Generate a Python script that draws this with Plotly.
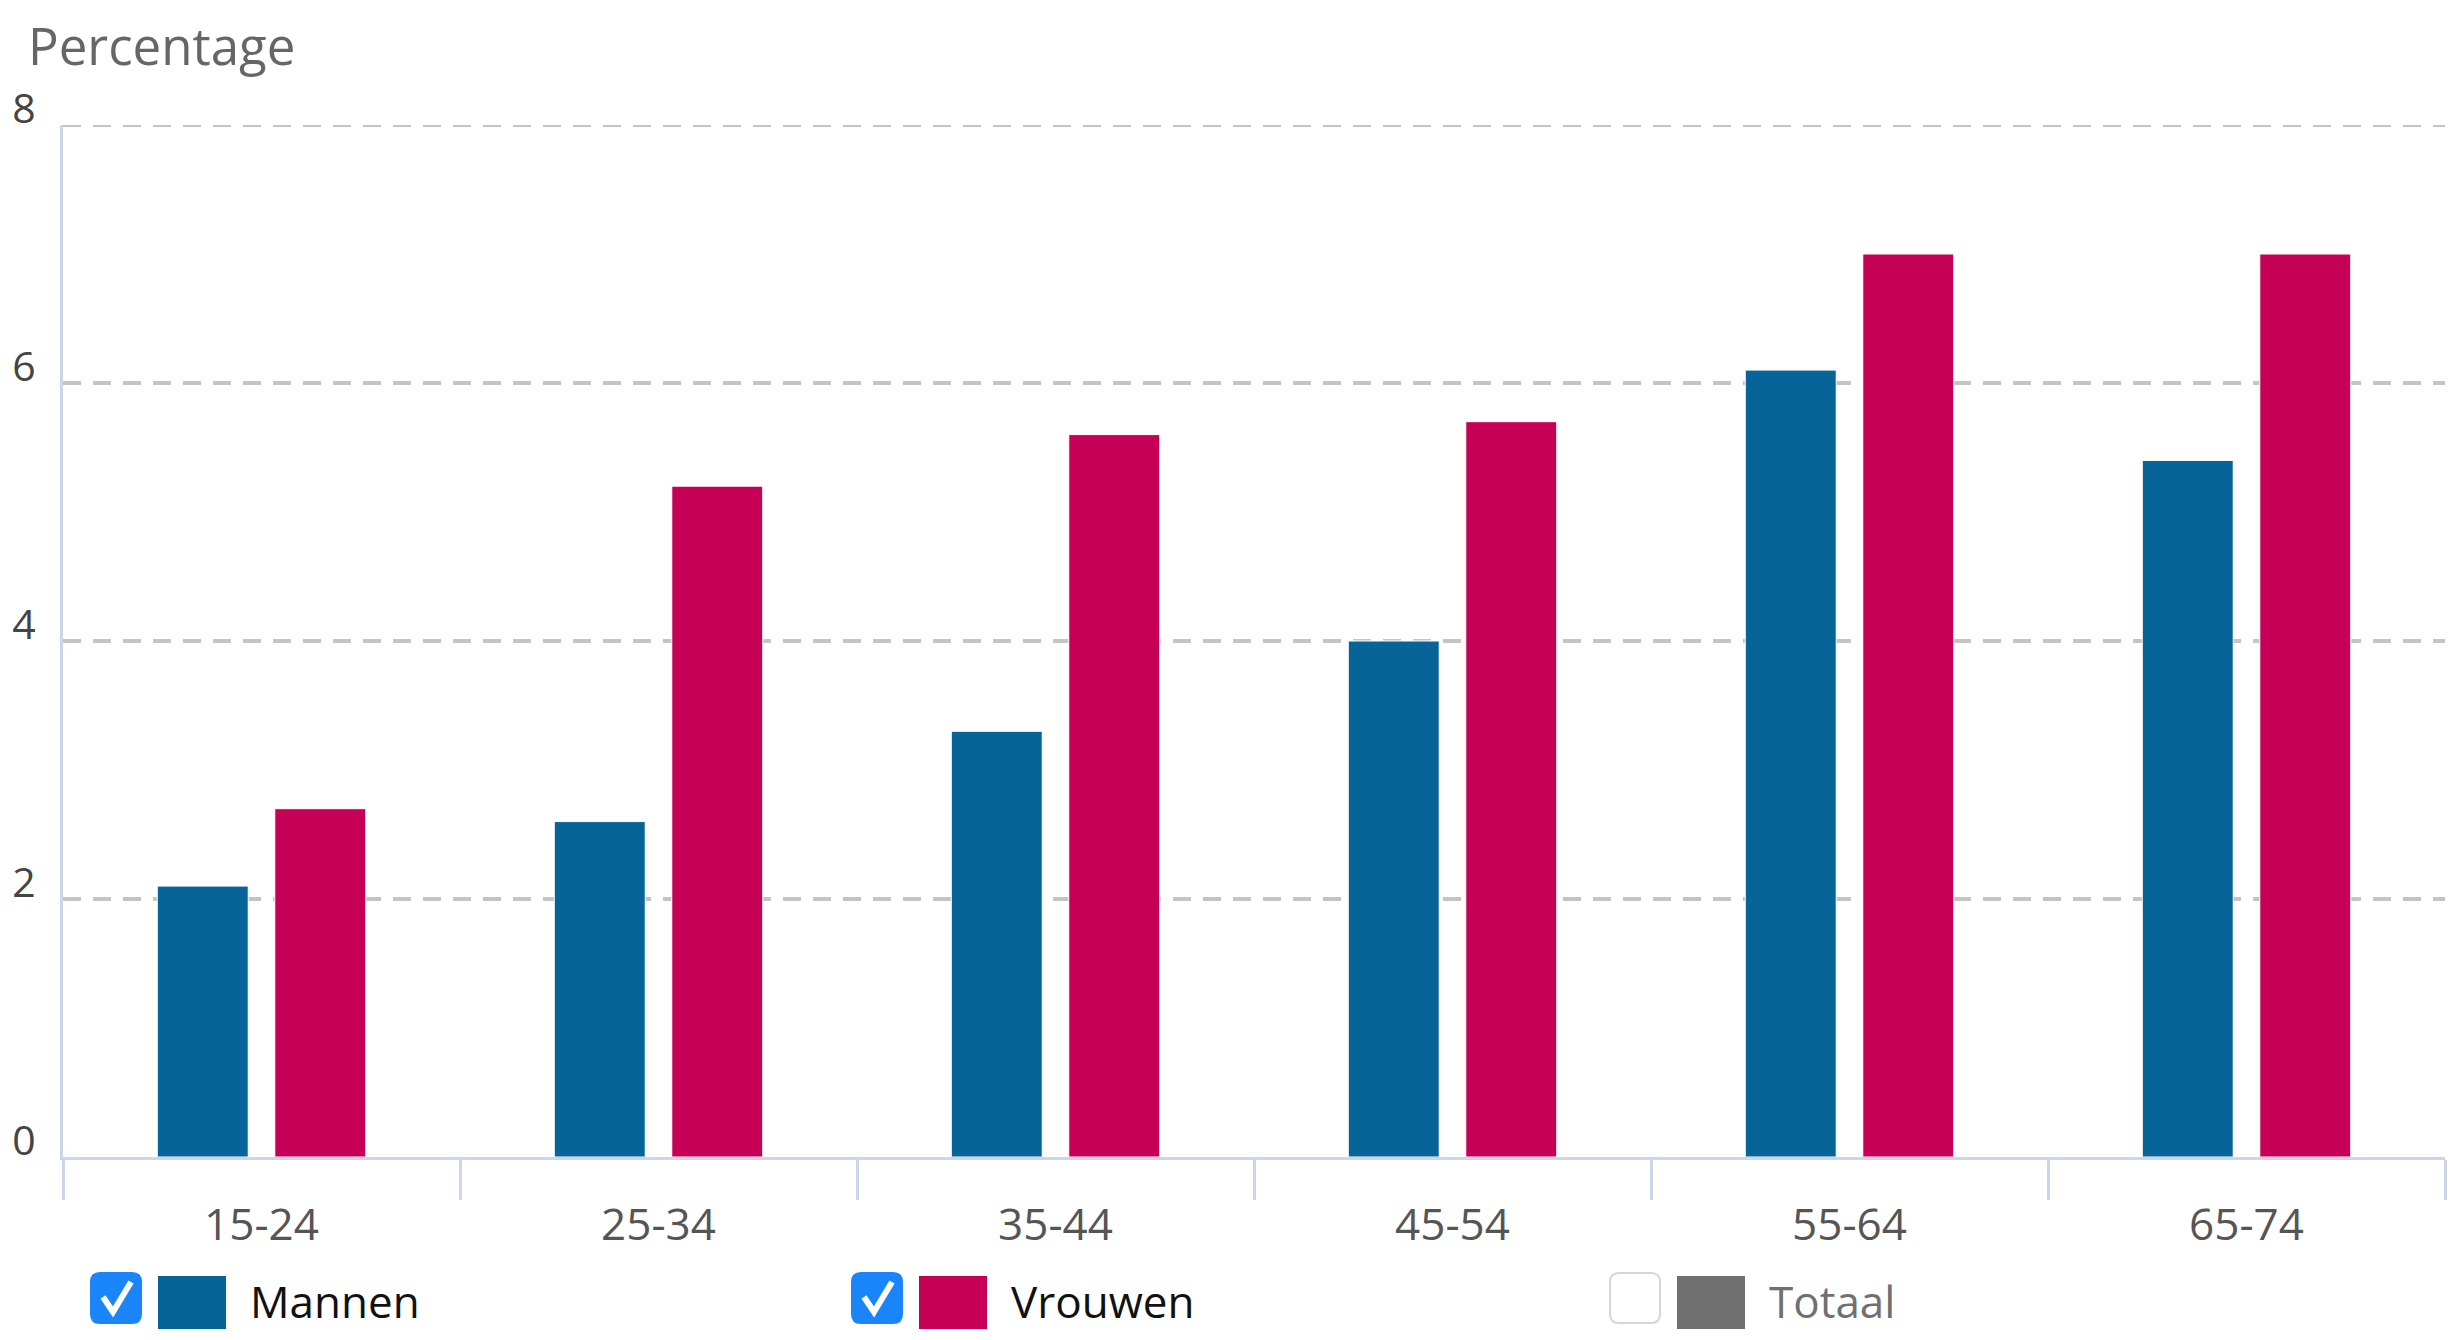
import plotly.graph_objects as go

categories = ["15-24", "25-34", "35-44", "45-54", "55-64", "65-74"]
mannen = [2.1, 2.6, 3.3, 4.0, 6.1, 5.4]
vrouwen = [2.7, 5.2, 5.6, 5.7, 7.0, 7.0]
y_ticks = [0, 2, 4, 6, 8]
series_names = ["Mannen", "Vrouwen", "Totaal"]
series_colors = ["#066499", "#c70057", "#707070"]
series_checked = [True, True, False]

# page is rendered with the default 8px body margin -> work in page pixels, convert
OFF = 8
PAGE_W, PAGE_H = 2457, 1340
W, H = PAGE_W - 2 * OFF, PAGE_H - 2 * OFF
# plot area in page pixels
P_LEFT, P_RIGHT, P_TOP, P_BOTTOM = 63, 2445, 125, 1157
L = P_LEFT - OFF
R = W - (P_RIGHT - OFF)
T = P_TOP - OFF
B = H - (P_BOTTOM - OFF)
PW = P_RIGHT - P_LEFT
PH = P_BOTTOM - P_TOP

GRID_COLOR = "#c4c4c4"
GRID_WIDTH = 4
GRID_DASH = "18px,12px"


def px(x):
    return (x - P_LEFT) / PW


def py(y):
    return (P_BOTTOM - y) / PH


fig = go.Figure()
fig.add_trace(go.Bar(x=categories, y=mannen, name=series_names[0],
                     marker=dict(color=series_colors[0], line=dict(color="white", width=1))))
fig.add_trace(go.Bar(x=categories, y=vrouwen, name=series_names[1],
                     marker=dict(color=series_colors[1], line=dict(color="white", width=1))))

shapes = []
annotations = []

# top grid line (plotly hides grid lines lying on the plot edge)
shapes.append(dict(type="line", xref="paper", yref="y", x0=0, x1=1,
                   y0=y_ticks[-1], y1=y_ticks[-1], layer="below",
                   line=dict(color=GRID_COLOR, width=GRID_WIDTH, dash=GRID_DASH)))


def rounded_rect(x0, y0, x1, y1, r):
    pts = [
        f"M {px(x0 + r)},{py(y0)}",
        f"L {px(x1 - r)},{py(y0)}",
        f"Q {px(x1)},{py(y0)} {px(x1)},{py(y0 + r)}",
        f"L {px(x1)},{py(y1 - r)}",
        f"Q {px(x1)},{py(y1)} {px(x1 - r)},{py(y1)}",
        f"L {px(x0 + r)},{py(y1)}",
        f"Q {px(x0)},{py(y1)} {px(x0)},{py(y1 - r)}",
        f"L {px(x0)},{py(y0 + r)}",
        f"Q {px(x0)},{py(y0)} {px(x0 + r)},{py(y0)}",
        "Z",
    ]
    return " ".join(pts)


legend_x = [91, 852, 1610]
for i, name in enumerate(series_names):
    bx = legend_x[i]
    checked = series_checked[i]
    shapes.append(dict(type="path", xref="paper", yref="paper",
                       path=rounded_rect(bx, 1273, bx + 50, 1323, 9),
                       fillcolor="#1a85f8" if checked else "#ffffff",
                       line=dict(color="#1a85f8" if checked else "#d6d6d6", width=2)))
    if checked:
        shapes.append(dict(type="path", xref="paper", yref="paper",
                           path=f"M {px(bx + 12)},{py(1297)} L {px(bx + 22)},{py(1312)} L {px(bx + 40)},{py(1282)}",
                           line=dict(color="white", width=6)))
    shapes.append(dict(type="rect", xref="paper", yref="paper",
                       x0=px(bx + 67), x1=px(bx + 135), y0=py(1276), y1=py(1329),
                       fillcolor=series_colors[i], line=dict(width=0)))
    annotations.append(dict(xref="paper", yref="paper", x=px(bx + 157), y=py(1301),
                            xanchor="left", yanchor="middle", showarrow=False,
                            text=name,
                            font=dict(family="Open Sans", size=44,
                                      color="#111111" if checked else "#707070")))

annotations.append(dict(xref="paper", yref="paper", x=px(26), y=py(45),
                        xanchor="left", yanchor="middle", showarrow=False,
                        text="Percentage",
                        font=dict(family="Open Sans", size=51, color="#666666")))

fig.update_layout(
    width=W, height=H,
    margin=dict(l=L, r=R, t=T, b=B, pad=0),
    paper_bgcolor="white", plot_bgcolor="white",
    barmode="group", bargap=0.408, bargroupgap=0.226,
    showlegend=False,
    shapes=shapes, annotations=annotations,
    font=dict(family="Open Sans"),
)
fig.update_xaxes(
    type="category",
    showline=True, linecolor="#ccd6eb", linewidth=3,
    ticks="outside", ticklen=40, tickwidth=3, tickcolor="#ccd6eb",
    tickson="boundaries",
    showgrid=False,
    tickfont=dict(family="Open Sans", size=44, color="#555555"),
    ticklabelstandoff=27,
)
fig.update_yaxes(
    range=[0, 8], tickvals=y_ticks, ticktext=[str(v) for v in y_ticks],
    showline=True, linecolor="#ccd6eb", linewidth=3,
    showgrid=True, gridcolor=GRID_COLOR, gridwidth=GRID_WIDTH, griddash=GRID_DASH,
    zeroline=False,
    ticks="",
    tickfont=dict(family="Open Sans", size=41, color="#444444"),
    ticklabelshift=-16, ticklabelstandoff=16,
)

fig.write_html("out.html")
